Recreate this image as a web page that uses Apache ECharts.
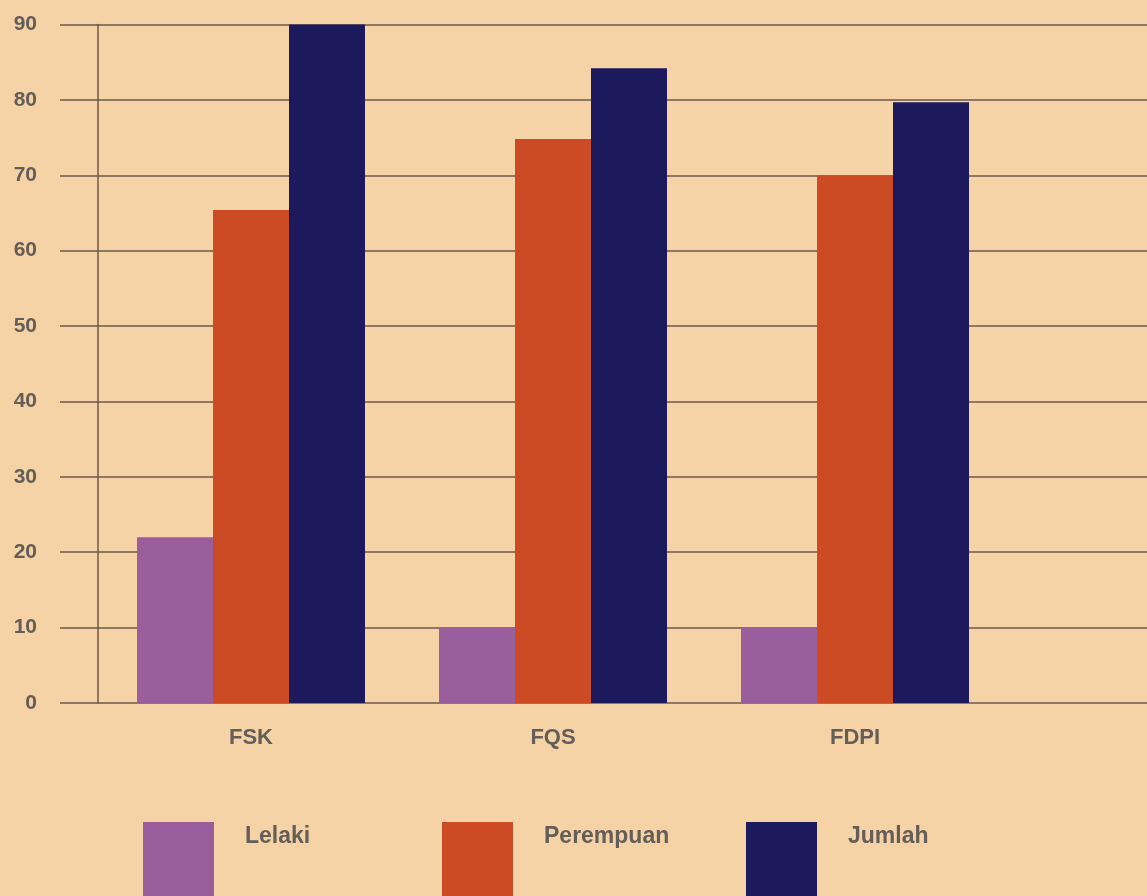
<!DOCTYPE html>
<html>
<head>
<meta charset="utf-8">
<script src="https://cdn.jsdelivr.net/npm/echarts@6/dist/echarts.min.js"></script>
<style>
html,body{margin:0;padding:0;background:#F5D3A6;}
#c{width:1147px;height:896px;}
</style>
</head>
<body>
<div id="c"></div>
<script>
const categories = ['FSK', 'FQS', 'FDPI'];
const lelaki = [22, 10, 10];
const perempuan = [65.4, 74.8, 70];
const jumlah = [90, 84.2, 79.7];
const yTicks = [0, 10, 20, 30, 40, 50, 60, 70, 80, 90];

const gridColor = '#6B5A47';
const textColor = '#645D58';
const font = '"Liberation Sans", Arial, sans-serif';

const chart = echarts.init(document.getElementById('c'));
function legendFor(name, left) {
  return {
    data: [name], left: left, top: 822, padding: 0,
    itemWidth: 71, itemHeight: 80, icon: 'rect', selectedMode: false,
    formatter: n => n + '\n\n',
    textStyle: { color: textColor, fontSize: 23, lineHeight: 25, fontWeight: 'bold', fontFamily: font, padding: [0, 0, 0, 26] }
  };
}
chart.setOption({
  backgroundColor: '#F5D3A6',
  animation: false,
  legend: [legendFor('Lelaki', 143), legendFor('Perempuan', 442), legendFor('Jumlah', 746)],
  grid: [
    { left: 98, right: 0, top: 24.5, bottom: 193 },
    { left: 100, right: 141, top: 24.5, bottom: 193 }
  ],
  xAxis: [
    { gridIndex: 0, type: 'category', data: [''], show: false },
    { gridIndex: 1, type: 'category', data: categories,
      axisLine: { show: false }, axisTick: { show: false },
      axisLabel: { color: textColor, fontSize: 22, fontWeight: 'bold', fontFamily: font, margin: 24 } }
  ],
  yAxis: [
    { gridIndex: 0, type: 'value', min: 0, max: 90, interval: 10,
      axisLine: { show: true, lineStyle: { color: gridColor, width: 1.5 } },
      axisTick: { show: true, length: 38, lineStyle: { color: gridColor, width: 1.5 } },
      splitLine: { show: true, lineStyle: { color: gridColor, width: 1.5 } },
      axisLabel: { color: textColor, fontSize: 21, fontWeight: 'bold', fontFamily: font, margin: 61,
        formatter: v => yTicks.includes(v) ? String(v) : '' } },
    { gridIndex: 1, type: 'value', min: 0, max: 90, interval: 10, show: false, splitLine: { show: false } }
  ],
  series: [
    { name: 'Lelaki', type: 'bar', xAxisIndex: 1, yAxisIndex: 1, data: lelaki, barWidth: 76, barGap: '0%', itemStyle: { color: '#9B5E9D' } },
    { name: 'Perempuan', type: 'bar', xAxisIndex: 1, yAxisIndex: 1, data: perempuan, barWidth: 76, barGap: '0%', itemStyle: { color: '#CD4B24' } },
    { name: 'Jumlah', type: 'bar', xAxisIndex: 1, yAxisIndex: 1, data: jumlah, barWidth: 76, barGap: '0%', itemStyle: { color: '#1C1A5C' } }
  ]
});
</script>
</body>
</html>
